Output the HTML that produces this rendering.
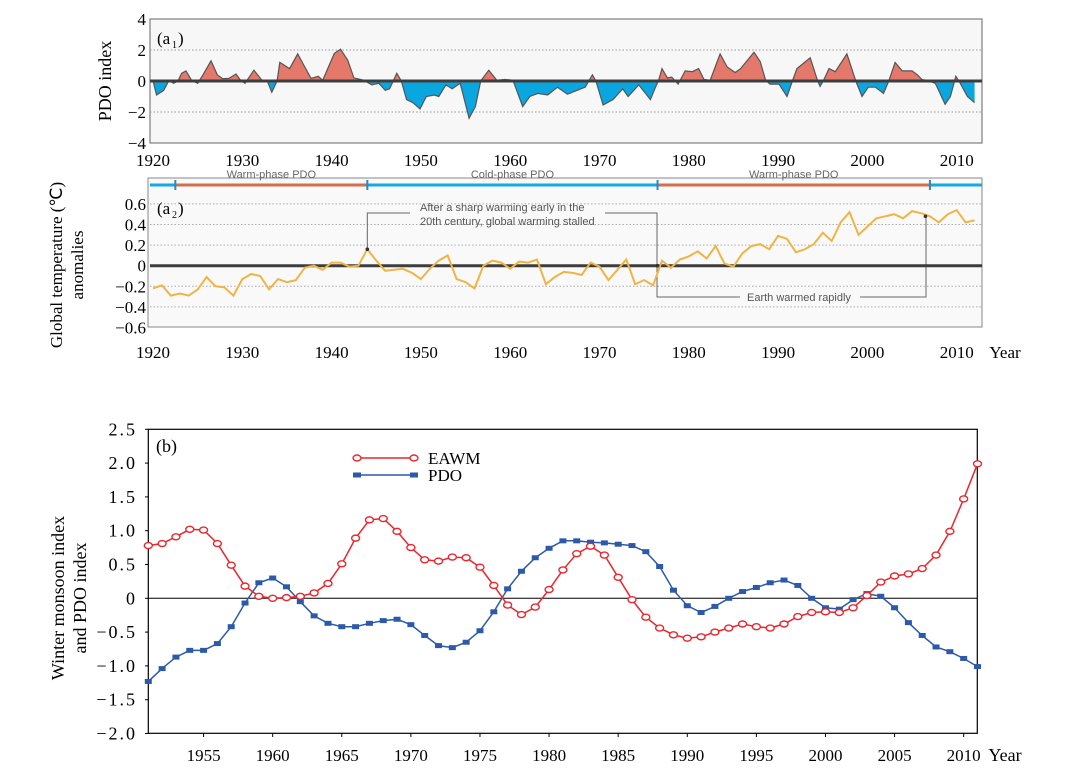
<!DOCTYPE html>
<html><head><meta charset="utf-8"><style>
html,body{margin:0;padding:0;background:#fff;}
svg{display:block;}
</style></head><body>
<svg id="fig" width="1072" height="770" xmlns="http://www.w3.org/2000/svg" font-family="Liberation Serif, serif"></svg>
<script>
// ---- Panel a1 data (PDO index, smoothed) ----
const pdoYears = [1920.0,1920.4,1921.2,1921.8,1922.3,1922.8,1923.2,1923.7,1924.3,1925.0,1925.6,1926.5,1927.2,1927.8,1928.5,1929.3,1929.8,1930.3,1931.3,1932.2,1932.8,1933.3,1933.9,1934.2,1935.3,1936.2,1937.0,1937.7,1938.5,1939.0,1940.3,1941.0,1941.8,1942.5,1943.6,1944.5,1945.3,1946.0,1946.5,1947.3,1947.8,1948.4,1949.1,1949.9,1950.6,1951.5,1952.0,1952.8,1953.5,1954.4,1955.4,1956.1,1956.7,1957.6,1958.5,1959.4,1960.3,1961.4,1962.2,1963.1,1964.2,1965.3,1966.4,1967.5,1968.4,1969.2,1969.6,1970.4,1971.5,1972.6,1973.2,1974.4,1975.7,1976.3,1976.6,1977.0,1977.6,1978.1,1978.8,1979.6,1980.4,1981.1,1981.7,1982.4,1983.5,1984.3,1985.2,1985.8,1987.3,1988.0,1988.6,1989.1,1990.1,1991.0,1991.6,1992.1,1993.6,1994.4,1994.7,1995.1,1995.7,1996.4,1997.7,1998.7,1999.4,2000.1,2000.9,2001.8,2002.4,2003.1,2003.9,2005.0,2005.6,2006.1,2006.9,2007.6,2008.7,2009.3,2009.9,2010.4,2011.2,2012.0];
const pdoValues = [0,-0.9,-0.6,0.05,-0.15,0,0.5,0.65,0.06,-0.15,0.4,1.3,0.4,0.15,0.17,0.45,0.05,-0.15,0.7,0.05,0,-0.73,0,1.2,0.8,1.75,0.9,0.17,0.3,0.05,1.78,2.05,1.35,0.2,0.05,-0.25,-0.15,-0.6,-0.5,0.5,0,-1.2,-1.4,-1.8,-1.0,-0.9,-1.0,-0.25,-0.5,-0.15,-2.4,-1.65,0,0.7,0.05,0.1,0.05,-1.65,-1.0,-0.8,-0.9,-0.4,-0.85,-0.6,-0.4,0.4,0,-1.55,-1.2,-0.5,-1.0,-0.25,-1.2,-0.35,0,0.8,0.2,0.25,-0.2,0.65,0.6,0.8,0.1,0.05,1.75,0.9,0.55,0.8,1.85,1.25,0.05,-0.2,-0.2,-1.0,0,0.8,1.5,0.05,-0.35,0.05,0.8,0.6,1.75,0,-1.0,-0.4,-0.4,-0.8,0,1.2,0.65,0.65,0.4,0.1,0,-0.15,-1.5,-1.0,0.3,-0.15,-1.0,-1.4];
const a1Ticks = [4,2,0,-2,-4];
const decadeTicks = [1920,1930,1940,1950,1960,1970,1980,1990,2000,2010];

// ---- Panel a2 data (global temperature anomalies, annual 1920-2012) ----
const tempStart = 1920;
const tempValues = [-0.22,-0.19,-0.29,-0.27,-0.29,-0.23,-0.11,-0.20,-0.21,-0.29,-0.13,-0.08,-0.10,-0.23,-0.13,-0.16,-0.14,-0.02,0,-0.04,0.03,0.03,-0.01,0,0.16,0.05,-0.05,-0.04,-0.03,-0.07,-0.13,-0.03,0.05,0.10,-0.13,-0.16,-0.22,0,0.05,0.03,-0.03,0.04,0.03,0.06,-0.18,-0.11,-0.06,-0.07,-0.09,0.03,-0.01,-0.14,-0.04,0.06,-0.18,-0.14,-0.19,0.05,-0.02,0.06,0.09,0.14,0.07,0.19,0.02,-0.01,0.12,0.19,0.21,0.16,0.29,0.26,0.13,0.16,0.21,0.32,0.24,0.42,0.52,0.30,0.38,0.46,0.48,0.50,0.46,0.53,0.51,0.48,0.42,0.50,0.54,0.42,0.44];
const a2Ticks = [0.6,0.4,0.2,0,-0.2,-0.4,-0.6];
const a2TickLabels = ["0.6","0.4","0.2","0","\u22120.2","\u22120.4","\u22120.6"];
const warmPhases = [[1922.5,1944],[1976.5,2007]];
const phaseLabels = ["Warm-phase PDO","Cold-phase PDO","Warm-phase PDO"];

// ---- Panel b data (1951-2011) ----
const bStart = 1951;
const eawmValues = [0.78,0.81,0.91,1.02,1.01,0.81,0.49,0.18,0.03,0,0.01,0.03,0.08,0.22,0.51,0.89,1.16,1.18,0.99,0.75,0.57,0.55,0.61,0.60,0.46,0.19,-0.10,-0.24,-0.13,0.13,0.42,0.66,0.77,0.64,0.31,-0.02,-0.28,-0.44,-0.54,-0.59,-0.57,-0.50,-0.44,-0.38,-0.42,-0.44,-0.38,-0.27,-0.21,-0.20,-0.21,-0.14,0.04,0.24,0.33,0.36,0.44,0.64,0.99,1.47,1.99];
const pdoBValues = [-1.23,-1.04,-0.87,-0.77,-0.77,-0.67,-0.42,-0.07,0.23,0.30,0.17,-0.05,-0.26,-0.37,-0.42,-0.42,-0.37,-0.33,-0.31,-0.39,-0.55,-0.70,-0.73,-0.65,-0.48,-0.20,0.14,0.40,0.60,0.74,0.85,0.85,0.83,0.82,0.80,0.78,0.69,0.47,0.12,-0.11,-0.21,-0.12,0,0.10,0.16,0.23,0.27,0.19,0,-0.14,-0.16,-0.02,0.07,0.03,-0.14,-0.36,-0.55,-0.72,-0.79,-0.89,-1.01];
const bTicks = [2.5,2.0,1.5,1.0,0.5,0,-0.5,-1.0,-1.5,-2.0];
const bTickLabels = ["2.5","2.0","1.5","1.0","0.5","0","\u22120.5","\u22121.0","\u22121.5","\u22122.0"];
const bXTicks = [1955,1960,1965,1970,1975,1980,1985,1990,1995,2000,2005,2010];

const NS = "http://www.w3.org/2000/svg";
const svg = document.getElementById('fig');
function mk(tag, attrs, parent, text){
  const e = document.createElementNS(NS, tag);
  for (const k in attrs) e.setAttribute(k, attrs[k]);
  if (text !== undefined) e.textContent = text;
  (parent||svg).appendChild(e);
  return e;
}

// shared x for panel a
const xa = y => 153 + (y - 1920) * 8.93;
// ===== Panel a1 =====
const ya1 = v => 81 - v * 15.5;
let e;
e = mk('rect',{x:150,y:19,width:832,height:124,fill:'#f7f7f7',stroke:'#666','stroke-width':1});


[2,-2].forEach(v=>{
  e = mk('line',{x1:150,x2:982,y1:ya1(v),y2:ya1(v),stroke:'#999','stroke-dasharray':'1.5,2','stroke-width':1});
  
  
});
// area
const defs = mk('defs',{});
const cpU = mk('clipPath',{id:'cpUp'},defs); mk('rect',{x:140,y:0,width:860,height:ya1(0)},cpU);
const cpD = mk('clipPath',{id:'cpDn'},defs); mk('rect',{x:140,y:ya1(0),width:860,height:200},cpD);
let pts = pdoYears.map((y,i)=>xa(y).toFixed(1)+','+ya1(pdoValues[i]).toFixed(1));
const areaD = 'M'+xa(pdoYears[0])+','+ya1(0)+' L'+pts.join(' L')+' L'+xa(pdoYears[pdoYears.length-1])+','+ya1(0)+'Z';
e = mk('path',{d:areaD,fill:'#e4786a','clip-path':'url(#cpUp)'});


e = mk('path',{d:areaD,fill:'#0aa6e0','clip-path':'url(#cpDn)'});


e = mk('polyline',{points:pts.join(' '),fill:'none',stroke:'#555','stroke-width':1.2});


e = mk('line',{x1:150,x2:982,y1:ya1(0),y2:ya1(0),stroke:'#3d3d3d','stroke-width':3});


a1Ticks.forEach(v=>{
  e = mk('text',{x:146,y:ya1(v)+6,'text-anchor':'end','font-size':17},null,v<0?'\u2212'+(-v):String(v));
  
  
});
decadeTicks.forEach(y=>{
  e = mk('text',{x:xa(y),y:166,'text-anchor':'middle','font-size':17},null,String(y));
  
  
});
e = mk('text',{x:0,y:0,'font-size':18,'text-anchor':'middle',transform:'translate(111,81) rotate(-90)'},null,'PDO index');


e = mk('text',{x:157,y:44,'font-size':17},null,'(a');


mk('text',{x:172,y:48,'font-size':10},null,'1');
mk('text',{x:178,y:44,'font-size':17},null,')');

// ===== Panel a2 =====
const ya2 = v => 265.7 - v * 103;
e = mk('rect',{x:148,y:178,width:834,height:149,fill:'#f9f9f9',stroke:'#888','stroke-width':1});


a2Ticks.forEach((v,i)=>{
  if (v!==0 && v!==-0.6){
    e = mk('line',{x1:150,x2:982,y1:ya2(v),y2:ya2(v),stroke:'#aaa','stroke-dasharray':'1.5,2','stroke-width':1});
    
    
  }
  e = mk('text',{x:146,y:ya2(v)+6,'text-anchor':'end','font-size':17},null,a2TickLabels[i]);
  
  
});
// phase bar
e = mk('line',{x1:150,x2:982,y1:185,y2:185,stroke:'#14a8e6','stroke-width':3});


warmPhases.forEach(p=>{
  e = mk('line',{x1:xa(p[0]),x2:xa(p[1]),y1:185,y2:185,stroke:'#d36f4c','stroke-width':3});
  
  
  [p[0],p[1]].forEach(q=>{
    e = mk('line',{x1:xa(q),x2:xa(q),y1:180,y2:190,stroke:'#2a8ac0','stroke-width':2});
    
    
  });
});
const phaseMid = [(warmPhases[0][0]+warmPhases[0][1])/2,(warmPhases[0][1]+warmPhases[1][0])/2,(warmPhases[1][0]+warmPhases[1][1])/2];
phaseLabels.forEach((t,i)=>{
  e = mk('text',{x:xa(phaseMid[i]),y:178,'text-anchor':'middle','font-size':11,fill:'#666','font-family':'Liberation Sans, sans-serif'},null,t);
  
  
});
// annotations
e = mk('polyline',{points:`${xa(1944)},${ya2(tempValues[24])} ${xa(1944)},213 410,213`,fill:'none',stroke:'#666','stroke-width':1});


e = mk('polyline',{points:`605,213 657,213 657,297 740,297`,fill:'none',stroke:'#666','stroke-width':1});


e = mk('polyline',{points:`860,297 926,297 926,215`,fill:'none',stroke:'#666','stroke-width':1});


e = mk('text',{x:420,y:211,'font-size':11,fill:'#555','font-family':'Liberation Sans, sans-serif'},null,'After a sharp warming early in the');


mk('text',{x:420,y:225,'font-size':11,fill:'#555','font-family':'Liberation Sans, sans-serif'},null,'20th century, global warming stalled');
e = mk('text',{x:747,y:301,'font-size':11,fill:'#555','font-family':'Liberation Sans, sans-serif'},null,'Earth warmed rapidly');


// zero line and temperature line
e = mk('line',{x1:150,x2:982,y1:ya2(0),y2:ya2(0),stroke:'#3d3d3d','stroke-width':3});


e = mk('polyline',{points:tempValues.map((v,i)=>xa(tempStart+i).toFixed(1)+','+ya2(v).toFixed(1)).join(' '),fill:'none',stroke:'#f0b445','stroke-width':2});


[1944,1976.5,2006.5].forEach(y=>{
  const i = Math.round(y - tempStart);
  e = mk('circle',{cx:xa(y),cy:y===1976.5?ya2(0):ya2(tempValues[i]),r:1.8,fill:'#333'});
  
  
});
decadeTicks.forEach(y=>{
  e = mk('text',{x:xa(y),y:358,'text-anchor':'middle','font-size':17},null,String(y));
  
  
});
e = mk('text',{x:1005,y:358,'text-anchor':'middle','font-size':17},null,'Year');


e = mk('text',{x:0,y:0,'font-size':17,'text-anchor':'middle',transform:'translate(62,265) rotate(-90)'},null,'Global temperature (\u2103)');


mk('text',{x:0,y:0,'font-size':17,'text-anchor':'middle',transform:'translate(83,265) rotate(-90)'},null,'anomalies');
e = mk('text',{x:157,y:214,'font-size':17},null,'(a');


mk('text',{x:172,y:218,'font-size':10},null,'2');
mk('text',{x:178,y:214,'font-size':17},null,')');

// ===== Panel b =====
const xb = y => 148.3 + (y - 1951) * 13.82;
const yb = v => 598.3 - v * 67.6;
e = mk('rect',{x:148.3,y:429.3,width:829,height:304,fill:'none',stroke:'#000','stroke-width':1.2});


e = mk('line',{x1:148.3,x2:977.3,y1:yb(0),y2:yb(0),stroke:'#000','stroke-width':1});


bTicks.forEach((v,i)=>{
  e = mk('line',{x1:145,x2:148.3,y1:yb(v),y2:yb(v),stroke:'#000'});
  
  
  e = mk('text',{x:137,y:yb(v)+6,'text-anchor':'end','font-size':18,'letter-spacing':'2'},null,bTickLabels[i]);
  
  
});
bXTicks.forEach(y=>{
  e = mk('line',{x1:xb(y),x2:xb(y),y1:733.3,y2:737,stroke:'#000'});
  
  
  e = mk('text',{x:xb(y),y:761,'text-anchor':'middle','font-size':17},null,String(y));
  
  
});
e = mk('text',{x:1005,y:761,'text-anchor':'middle','font-size':18},null,'Year');


e = mk('text',{x:0,y:0,'font-size':18,'text-anchor':'middle',transform:'translate(64,598) rotate(-90)'},null,'Winter monsoon index');


mk('text',{x:0,y:0,'font-size':18,'text-anchor':'middle',transform:'translate(86,598) rotate(-90)'},null,'and PDO index');
e = mk('text',{x:156,y:452,'font-size':18},null,'(b)');


// PDO series
e = mk('polyline',{points:pdoBValues.map((v,i)=>xb(bStart+i).toFixed(1)+','+yb(v).toFixed(1)).join(' '),fill:'none',stroke:'#2c5aa8','stroke-width':1.5});


pdoBValues.forEach((v,i)=>{
  e = mk('rect',{x:xb(bStart+i)-3.5,y:yb(v)-2.5,width:7,height:5,fill:'#2c5aa8'});
  
  
});
// EAWM series
e = mk('polyline',{points:eawmValues.map((v,i)=>xb(bStart+i).toFixed(1)+','+yb(v).toFixed(1)).join(' '),fill:'none',stroke:'#e8262c','stroke-width':1.5});


eawmValues.forEach((v,i)=>{
  e = mk('ellipse',{cx:xb(bStart+i),cy:yb(v),rx:4,ry:3,fill:'#fff',stroke:'#e8262c','stroke-width':1.4});
  
  
});
// legend
e = mk('g',{});


mk('line',{x1:357,x2:414,y1:458,y2:458,stroke:'#e8262c','stroke-width':1.5},e);
mk('ellipse',{cx:357,cy:458,rx:4,ry:3,fill:'#fff',stroke:'#e8262c','stroke-width':1.4},e);
mk('ellipse',{cx:414,cy:458,rx:4,ry:3,fill:'#fff',stroke:'#e8262c','stroke-width':1.4},e);
mk('text',{x:428,y:464,'font-size':17},e,'EAWM');
mk('line',{x1:357,x2:414,y1:475,y2:475,stroke:'#2c5aa8','stroke-width':1.5},e);
mk('rect',{x:353,y:472.5,width:8,height:5,fill:'#2c5aa8'},e);
mk('rect',{x:410,y:472.5,width:8,height:5,fill:'#2c5aa8'},e);
mk('text',{x:428,y:481,'font-size':17},e,'PDO');
</script>
</body></html>
